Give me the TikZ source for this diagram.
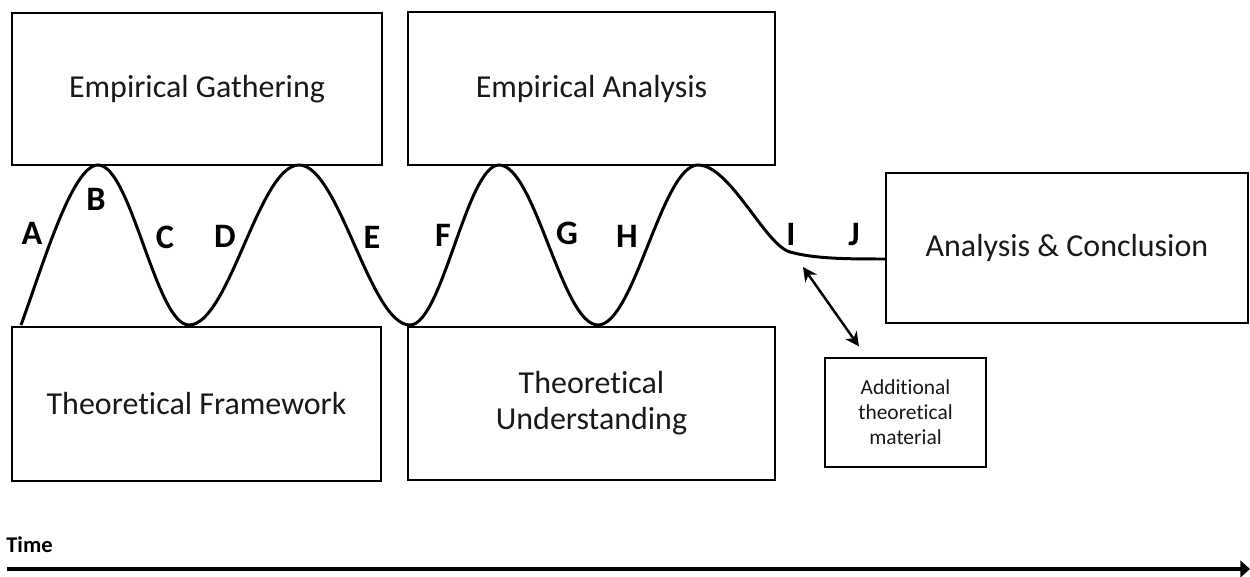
\documentclass[tikz,border=0pt]{standalone}
\usepackage{fontspec}
\setmainfont{Carlito}[Ligatures=NoCommon]
\usepackage{tikz}
\usetikzlibrary{arrows.meta}
\tikzset{
	phase/.style={
			draw, line width=1.6pt, text=black!90, align=center,
			font=\fontsize{18.2}{20.5}\selectfont
		},
	letter/.style={inner sep=0pt, font=\fontsize{19.5}{22}\selectfont\bfseries},
	wave/.style={line width=1.7pt},
	link/.style={line width=1.4pt, {Stealth[length=8pt,width=8pt]}-{Stealth[length=8pt,width=8pt]}},
	timeline/.style={line width=2.2pt, -{Triangle[length=5.5pt,width=9.5pt]}}
}

\begin{document}
\begin{tikzpicture}[x=0.02cm, y=-0.02cm]
        \useasboundingbox (0,0) rectangle (1250,577);

        \node[phase, minimum width=7.4cm, minimum height=3.04cm] (gather) at (197,89) {Empirical Gathering};
        \node[phase, minimum width=7.34cm, minimum height=3.06cm] (analysis) at (591.5,88.5) {Empirical Analysis};
        \node[phase, minimum width=7.38cm, minimum height=3.08cm] (framework) at (196.5,404) {Theoretical Framework};
        \node[phase, minimum width=7.34cm, minimum height=3.06cm] (understanding) at (591.5,403.5) {Theoretical\\Understanding};
        \node[phase, minimum width=7.24cm, minimum height=3cm] (conclusion) at (1067,248) {Analysis \& Conclusion};
        \node[phase, font=\fontsize{12.2}{14.2}\selectfont, minimum width=3.22cm, minimum height=2.18cm] (extra) at (905.5,412.5) {Additional\\theoretical\\material};

        \draw[wave] (21,325) .. controls (42,268) and (72,165) .. (98,165)
            .. controls +(33,0) and +(-33,0) .. (189,325)
            .. controls +(40,0) and +(-40,0) .. (299,165)
            .. controls +(40,0) and +(-40,0) .. (410,325)
            .. controls +(32,0) and +(-32,0) .. (499,165)
            .. controls +(36,0) and +(-36,0) .. (598,325)
            .. controls +(36,0) and +(-36,0) .. (698,165)
            .. controls +(32,0) and (765,245) .. (790,252)
            .. controls (815,259) and (850,259) .. (885,259);

        \node[letter] (A) at (32,233) {A};
        \node[letter] (B) at (96,199) {B};
        \node[letter] (C) at (165,237) {C};
        \node[letter] (D) at (225,236) {D};
        \node[letter] (E) at (372,237) {E};
        \node[letter] (F) at (443,235) {F};
        \node[letter] (G) at (567,233) {G};
        \node[letter] (H) at (627,236) {H};
        \node[letter] (I) at (791,234) {I};
        \node[letter] (J) at (854,235) {J};

        \coordinate (pivot) at (803,267);
        \draw[link, shorten >=0.25cm] (pivot) -- (extra);

        \node[inner sep=0pt, anchor=west, font=\fontsize{12.8}{14}\selectfont\bfseries] (time) at (6,545) {Time};
        \coordinate (start) at (7,569);
        \coordinate (now) at (1250,569);
        \draw[timeline] (start) -- (now);
    \end{tikzpicture}
\end{document}
